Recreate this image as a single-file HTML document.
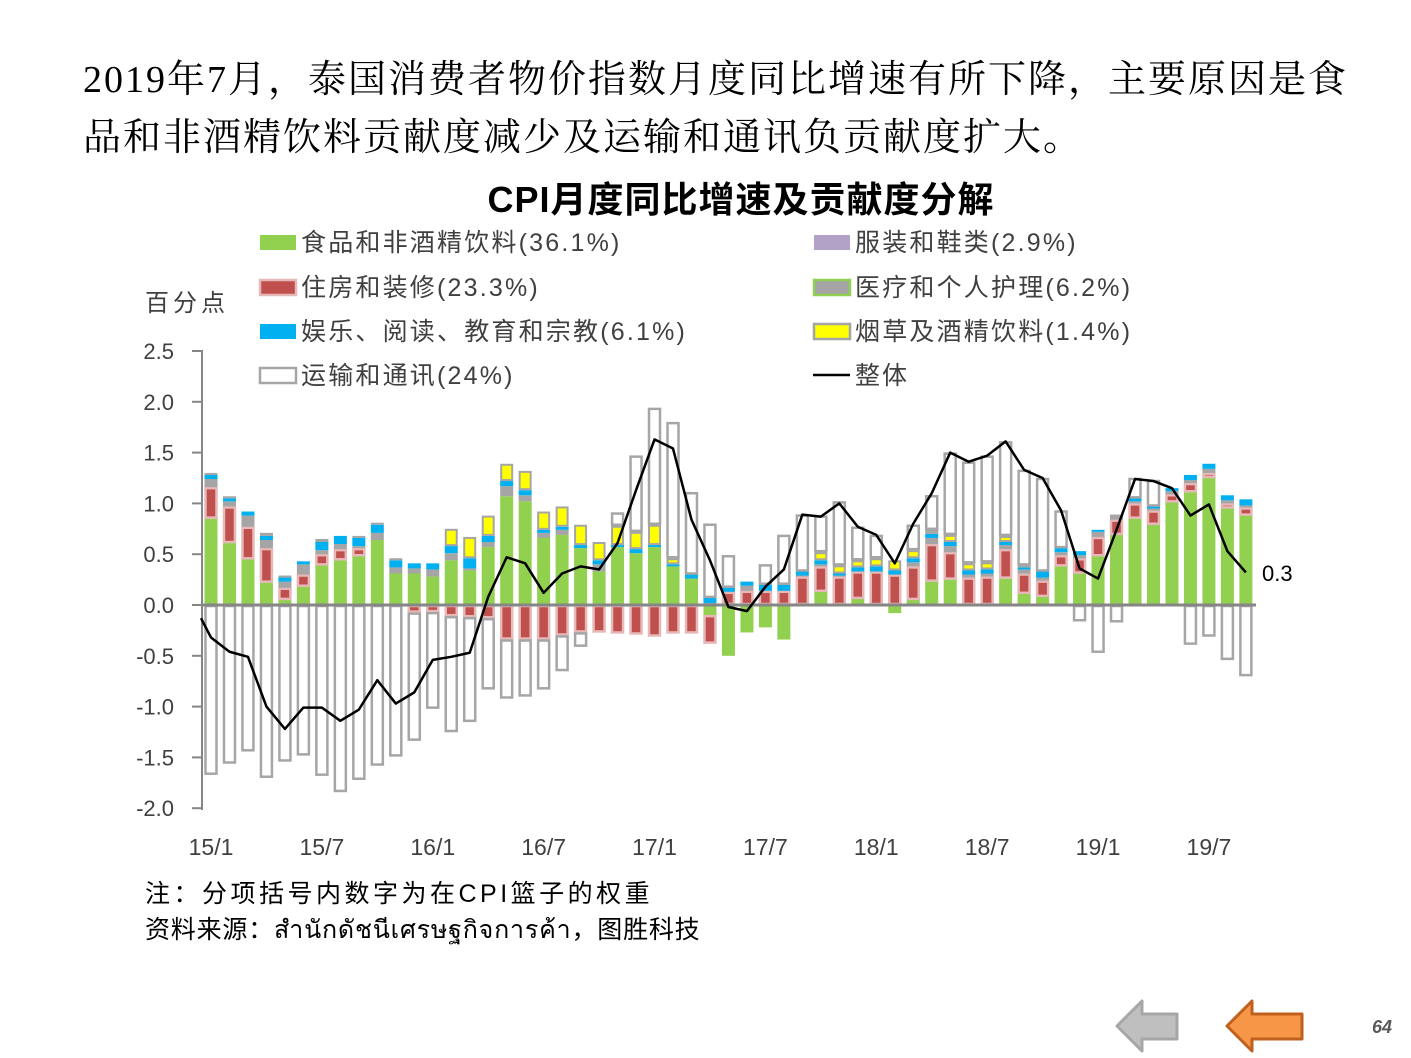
<!DOCTYPE html>
<html><head><meta charset="utf-8"><style>
body{margin:0;background:#fff;}
#w{position:relative;width:1411px;height:1058px;overflow:hidden;background:#fff;}
.t{position:absolute;white-space:nowrap;}
.h{font-family:"Liberation Serif","Noto Serif CJK SC",serif;font-size:38px;color:#000;letter-spacing:2px;}
</style></head><body><div id="w">
<div class="t h" style="left:83px;top:48px;">2019年7月，泰国消费者物价指数月度同比增速有所下降，主要原因是食</div>
<div class="t h" style="left:83px;top:106px;">品和非酒精饮料贡献度减少及运输和通讯负贡献度扩大。</div>
<svg id="s" width="1411" height="1058" style="position:absolute;left:0;top:0" font-family="Liberation Sans, Noto Sans CJK SC, sans-serif"></svg>
</div>
<script>
var s=document.getElementById('s');var o='';
function R(x,y,w,h,f,st,sw){if(h<0){y+=h;h=-h;}o+='<rect x="'+x+'" y="'+y+'" width="'+w+'" height="'+h+'" fill="'+f+'"'+(st?' stroke="'+st+'" stroke-width="'+sw+'"':'')+'/>';}
function T(x,y,t,sz,a,ex){o+='<text x="'+x+'" y="'+y+'" font-size="'+sz+'"'+(a?' text-anchor="'+a+'"':'')+(ex||'')+'>'+t+'</text>';}
T(741,212,'CPI月度同比增速及贡献度分解',36,'middle',' font-weight="bold" letter-spacing="1"');
var lg=[[259,242,'#92D050','','食品和非酒精饮料(36.1%)'],[813,242,'#B3A2C7','','服装和鞋类(2.9%)'],
[259,287,'#C0504D','#E6B9B8','住房和装修(23.3%)'],[813,287,'#A5A5A5','#92D050','医疗和个人护理(6.2%)'],
[259,331,'#00B0F0','','娱乐、阅读、教育和宗教(6.1%)'],[813,331,'#FFFF00','#A5A5A5','烟草及酒精饮料(1.4%)'],
[259,375,'#fff','#A6A6A6','运输和通讯(24%)']];
lg.forEach(function(l){R(l[0]+1,l[1]-7,36,15,l[2],l[3]||null,2.5);T(l[0]+42,l[1]+9,l[4],25,'',' fill="#404040" letter-spacing="2.2"');});
o+='<line x1="813" y1="375" x2="850" y2="375" stroke="#000" stroke-width="2.5"/>';T(855,384,'整体',25,'',' fill="#404040" letter-spacing="2"');
T(145,311,'百分点',24,'',' fill="#404040" letter-spacing="4"');
var Z=605,U=101.6;
for(var i=0;i<10;i++){var v=2.5-i*0.5,y=Z-v*U;T(174,y+8,v.toFixed(1),22,'end',' fill="#404040"');o+='<line x1="192" y1="'+y+'" x2="202" y2="'+y+'" stroke="#868686" stroke-width="2"/>';}
var xl=['15/1','15/7','16/1','16/7','17/1','17/7','18/1','18/7','19/1','19/7'];
xl.forEach(function(t,k){T(211+k*6*18.48,855,t,23,'middle',' fill="#404040"');});
var D=[[.85,.31,.08,.04,.02,-1.67],[.61,.36,.05,.03,.02,-1.56],[.45,.32,.11,.04,0,-1.44],[.22,.34,.08,.04,.03,-1.7],[.05,.12,.06,.04,.02,-1.54],[.18,.12,.1,.03,0,-1.48],[.39,.11,.04,.09,.01,-1.68],[.44,.11,.05,.08,0,-1.84],[.48,.08,.02,.08,.02,-1.72],[.64,0,.07,.08,.02,-1.58],[.31,0,.06,.07,.02,-1.49],
[.31,-.075,.05,.05,0,-1.26],[.28,-.07,.07,.06,0,-.95],[.44,-.11,.07,.07,.17,-1.14],[.34,-.12,.02,.1,.21,-1.03],[.57,-.13,.05,.06,.2,-.7],[1.07,-.34,.1,.05,.17,-.58],[1.02,-.34,.06,.05,.19,-.56],[.66,-.34,.05,.03,.18,-.49],[.69,-.3,.05,.03,.2,-.35],[.56,-.27,0,.03,.2,-.14],[.33,-.27,.07,.04,.18,0],[.57,-.28,0,.02,.19,.13],[.51,-.29,0,.04,.17,.75],[.57,-.31,0,.02,.2,1.15],[.38,-.28,0,.02,.06,1.34],[.26,-.28,0,.04,0,.81],
[-.1,-.28,.02,.05,0,.73],[-.5,.13,0,.04,0,.32],[-.27,.14,.05,.04,0,0],[-.22,.14,0,.06,0,.2],[-.34,.14,0,.06,0,.49],[0,.28,.01,.04,0,.56],[.13,.25,.02,.04,.08,.36],[0,.28,.01,.02,.08,.63],[.06,.27,0,.04,.07,.33],[0,.33,0,.05,.08,.23],[-.08,.3,0,.04,.1,0],
[.05,.33,.04,.04,.08,.25],[.23,.37,.06,.04,.04,.34],[.25,.27,.06,.04,.07,.81],[0,.27,.03,.04,.07,1.0],[0,.28,.03,.04,.07,1.05],[.26,.29,.04,.03,.06,.93],[.11,.2,.04,.02,.02,.94],[.08,.16,.03,.06,0,.92],[.38,.11,.03,.04,0,.37],[.31,.15,.03,.04,0,-.16],[.48,.19,.05,.02,0,-.47],[.69,.15,.05,0,0,-.17],[.85,.15,.02,.03,0,.2],[.79,.14,.02,.02,0,.26],[1.01,.08,.03,.03,0,0],[1.11,.09,.03,.05,0,-.39],[1.25,.05,.04,.05,0,-.31],[.95,.05,.03,.05,0,-.54],[.88,.08,.02,.06,0,-.7]];
var C=['#92D050','#C0504D','#A5A5A5','#00B0F0','#FFFF00'];
D.forEach(function(d,i){var x=211+i*18.48-6.5,w=13,p=0,n=0;
for(var k=0;k<6;k++){var v=d[k];if(!v)continue;var y0,h=Math.abs(v)*U;
if(v>0){y0=Z-(p+v)*U;p+=v;}else{y0=Z+n*U;n-=v;}
if(k==5)R(x+1,y0+1,w-2,h-2,'#fff','#A6A6A6',2.5);
else if(k==1)R(x+1,y0+1,w-2,h-2,C[1],'#E6B9B8',2.5);
else if(k==4)R(x+1,y0+1,w-2,h-2,C[4],'#A5A5A5',2);
else R(x,y0,w,h,C[k]);}});
o+='<line x1="202" y1="605" x2="1256" y2="605" stroke="#868686" stroke-width="3"/>';
o+='<line x1="202" y1="350" x2="202" y2="810" stroke="#868686" stroke-width="2"/>';
var L=[-.32,-.46,-.51,-1.0,-1.22,-1.01,-1.01,-1.14,-1.03,-.74,-.97,-.86,-.54,-.51,-.47,.08,.47,.41,.12,.31,.38,.35,.61,1.13,1.63,1.54,.84,.44,-.02,-.06,.18,.35,.89,.87,1.0,.77,.69,.41,.8,1.1,1.5,1.41,1.47,1.61,1.33,1.25,.93,.36,.26,.74,1.24,1.22,1.15,.88,.99,.53,.32];
var pts='201,'+(Z+.13*U);L.forEach(function(v,i){pts+=' '+(211+i*18.48)+','+(Z-v*U);});
o+='<polyline points="'+pts+'" fill="none" stroke="#000" stroke-width="2.5" stroke-linejoin="round"/>';
T(1262,581,'0.3',22,'',' fill="#000"');
T(145,902,'注：分项括号内数字为在CPI篮子的权重',25,'',' fill="#000" letter-spacing="3.5"');
T(145,938,'资料来源：สำนักดัชนีเศรษฐกิจการค้า，图胜科技',25,'',' fill="#000" letter-spacing="0.8"');
o+='<polygon points="1117,1026 1142,1001 1142,1014 1177,1014 1177,1039 1142,1039 1142,1051" fill="#BFBFBF" stroke="#A6A6A6" stroke-width="3" stroke-linejoin="round"/>';
o+='<polygon points="1227,1026 1252,1001 1252,1014 1302,1014 1302,1039 1252,1039 1252,1051" fill="#F79646" stroke="#C0601E" stroke-width="3" stroke-linejoin="round"/>';
T(1382,1033,'64',18,'middle',' fill="#595959" font-weight="bold" font-style="italic"');
s.innerHTML=o;
</script></body></html>
